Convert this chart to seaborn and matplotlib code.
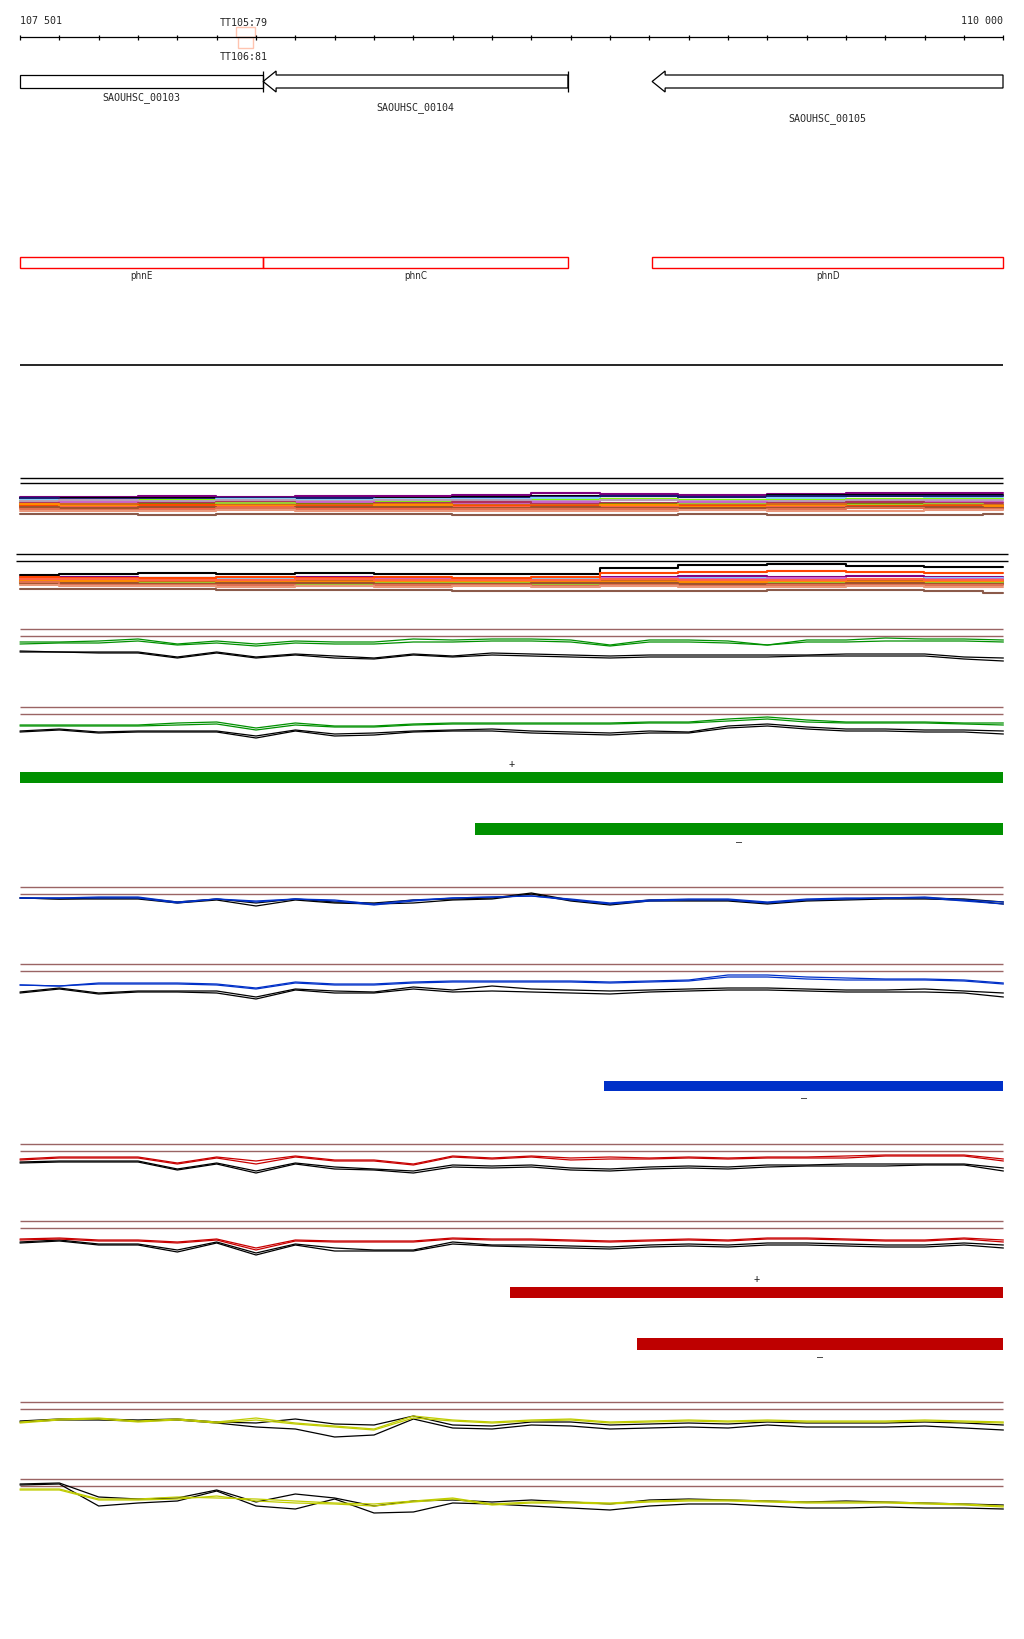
import numpy as np
import pandas as pd
import matplotlib
matplotlib.use("Agg")
import matplotlib.pyplot as plt
import seaborn as sns
from matplotlib.patches import Polygon, Rectangle

# ---------------- data ----------------
VIEW_START, VIEW_END = 107501, 110000
ruler_labels = ["107 501", "110 000"]

gene_ids = ["SAOUHSC_00103", "SAOUHSC_00104", "SAOUHSC_00105"]
gene_names = ["phnE", "phnC", "phnD"]
gene_start = [107501, 108119, 109108]
gene_end = [108119, 108894, 110000]
gene_strand = ["+", "-", "-"]

term_labels = ["TT105:79", "TT106:81"]
term_start = [108050, 108055]
term_end = [108099, 108093]

pos = list(range(107501, 110002, 100))          # 26 bins
pos_m = [107501, 107700, 107900, 108100, 108300, 108500, 108700,
         108900, 109050, 109300, 109500, 109700, 109900, 110000]

# single-colour track groups: offsets (px depth) below the lower guide line
green1_a = [6,6,5,3,8,5,8,5,6,6,3,4,3, 3,4,9,4,4,5,9,4,4,2,3,3,4]
green1_b = [8,7,7,5,9,7,10,7,8,8,6,6,5, 5,6,10,6,6,7,9,6,6,5,5,5,6]
green1_k1 = [15,16,16,16,21,16,21,18,20,22,18,20,17, 18,19,20,19,19,19,19,19,18,18,18,21,22]
green1_k2 = [16,16,17,17,22,17,22,19,22,23,19,21,19, 20,21,22,21,21,21,21,20,20,20,20,23,25]

green2_a = [11,11,11,11,9,8,14,9,12,12,10,9,9, 9,9,9,8,8,5,3,6,8,8,8,9,9]
green2_b = [12,12,12,12,11,10,16,11,13,13,11,10,10, 10,10,10,9,9,7,5,8,9,9,9,10,11]
green2_k1 = [17,15,18,17,17,17,22,16,20,19,17,16,15, 17,18,19,17,18,12,10,13,15,15,16,16,17]
green2_k2 = [18,16,19,18,18,18,24,17,22,21,18,17,17, 19,20,21,19,19,14,12,15,17,17,18,18,20]

blue1_a = [4,4,3,3,8,5,7,5,6,10,6,4,3, 2,5,9,6,5,5,8,5,4,4,3,6,8]
blue1_b = [4,4,4,4,9,5,8,5,7,11,7,4,3, 2,6,10,7,6,6,9,6,5,4,4,7,10]
blue1_k1 = [4,5,4,4,8,5,9,5,8,9,6,5,4, -1,6,10,6,6,6,9,6,5,4,4,5,8]
blue1_k2 = [4,5,5,5,9,6,12,6,9,10,9,6,5, 0,7,11,7,7,7,10,7,6,5,5,6,10]

blue2_a = [14,15,12,12,12,13,17,11,13,13,11,10,10, 10,10,11,10,9,4,4,6,7,8,8,9,12]
blue2_b = [14,15,13,13,13,14,18,12,14,14,12,11,11, 11,11,12,11,10,6,6,8,9,9,9,10,13]
blue2_k1 = [21,17,22,20,20,20,26,18,20,21,16,19,15, 18,19,20,19,18,17,17,18,19,19,18,20,22]
blue2_k2 = [22,18,23,21,21,22,28,19,22,22,18,21,20, 21,22,23,21,20,19,19,20,21,21,21,22,26]

red1_a = [8,6,6,6,12,6,10,5,9,9,13,5,7, 5,7,6,7,6,7,6,6,5,4,4,4,8]
red1_b = [9,7,7,7,13,7,13,6,10,10,14,6,8, 6,9,8,8,7,8,7,7,7,5,5,5,10]
red1_k1 = [11,10,10,10,18,12,20,12,16,18,20,14,15, 14,17,18,16,15,16,14,14,13,13,13,13,17]
red1_k2 = [12,11,11,11,19,13,22,13,18,19,22,16,17, 16,19,20,18,17,18,16,15,15,15,14,14,20]

red2_a = [11,10,12,12,14,11,20,12,13,13,13,10,11, 11,12,13,12,11,12,10,10,11,12,12,10,12]
red2_b = [12,11,13,13,15,12,22,13,14,14,14,11,12, 12,13,14,13,12,13,11,11,12,13,13,11,14]
red2_k1 = [14,12,16,16,22,14,25,16,20,22,22,14,17, 17,18,19,17,16,17,15,15,16,17,17,15,17]
red2_k2 = [15,13,17,17,24,15,27,17,23,23,23,16,18, 19,20,21,19,18,19,17,17,18,19,19,17,20]

yellow1_a = [13,10,9,12,10,13,9,14,17,20,7,11,13, 11,10,13,12,11,12,11,12,12,12,11,12,13]
yellow1_b = [14,11,10,13,11,14,11,15,18,21,9,12,14, 12,11,14,13,12,13,12,13,13,13,12,13,14]
yellow1_k1 = [12,10,10,11,10,13,14,10,15,16,7,16,17, 13,13,16,15,14,15,13,14,14,14,13,14,16]
yellow1_k2 = [13,11,11,12,11,14,18,20,28,26,10,19,20, 16,17,20,19,18,19,16,18,18,18,17,19,21]

yellow2_a = [3,3,13,13,11,12,13,15,17,18,15,12,18, 16,16,17,15,14,14,15,16,16,16,17,18,20]
yellow2_b = [4,4,14,14,13,10,15,17,18,20,16,13,19, 17,17,18,16,15,15,16,17,17,17,18,19,21]
yellow2_k1 = [-2,-3,11,13,12,4,16,8,12,20,15,14,16, 14,16,18,14,13,14,15,16,15,16,17,18,19]
yellow2_k2 = [-1,-2,20,17,15,5,20,23,13,27,26,17,18, 20,22,24,20,18,18,20,22,22,21,22,22,23]

# multi-colour groups (offsets below lower black guide line)
multi_colors = ["#800080", "#000000", "#191970", "#87cefa", "#7cfc00", "#b8a0b8",
                "#cc66cc", "#b03060", "#808000", "#9acd32", "#d2691e", "#ff4500",
                "#ff8c00", "#ff6347", "#a0522d", "#e07050", "#e9967a", "#8b5a4a"]
multi1 = [
    [14,14,13,14,13,13,12,10,11,12,11,10,10,10],
    [15,15,15,15,15,15,14,13,13,14,12,12,12,12],
    [15,16,16,15,15,16,15,14,13,14,13,13,13,13],
    [17,17,17,16,17,16,16,15,16,17,15,16,15,15],
    [18,18,17,17,18,18,18,17,16,17,17,16,16,16],
    [18,17,18,17,18,17,17,18,17,18,18,17,17,17],
    [20,19,20,21,19,20,21,19,20,19,20,20,19,19],
    [20,21,20,19,21,20,19,21,20,21,20,19,20,20],
    [22,23,21,22,21,23,22,23,21,22,22,21,22,22],
    [21,22,22,20,23,22,23,22,22,21,23,22,21,22],
    [22,21,23,22,22,21,22,22,23,22,21,23,22,22],
    [23,24,22,24,23,24,23,23,24,23,24,23,23,24],
    [21,23,24,23,24,22,24,24,22,24,23,24,24,23],
    [25,24,25,24,25,25,24,25,24,25,24,25,25,25],
    [24,25,24,25,24,24,25,24,25,25,25,24,24,25],
    [26,27,27,25,27,27,26,26,26,27,26,25,26,26],
    [28,28,28,27,28,28,28,28,28,27,28,28,27,27],
    [31,31,32,31,31,31,32,32,32,31,32,32,32,31],
]
multi2 = [
    [16,16,17,17,16,17,18,17,16,15,16,15,16,16],
    [14,13,12,13,12,13,13,13,7,4,3,5,6,6],
    [18,19,17,18,20,18,19,18,19,20,18,20,19,19],
    [17,18,18,17,19,18,17,18,18,17,18,18,17,17],
    [21,20,21,22,20,21,22,21,21,22,21,21,22,22],
    [19,20,20,21,20,20,20,20,21,20,21,20,21,21],
    [17,17,18,19,17,18,18,19,17,18,17,19,18,18],
    [22,22,21,21,22,23,22,24,22,21,23,24,23,23],
    [20,21,22,21,22,21,21,22,22,21,22,22,21,21],
    [23,23,22,23,23,22,22,23,23,22,22,23,22,22],
    [19,19,20,20,19,20,20,20,20,20,20,20,20,20],
    [16,17,17,16,17,16,17,16,12,11,10,11,12,12],
    [20,20,19,20,21,20,20,20,21,21,20,21,20,20],
    [18,18,19,19,18,19,19,19,18,19,19,18,19,19],
    [22,22,23,22,22,23,23,22,22,23,23,22,23,23],
    [21,24,24,24,25,24,24,25,24,25,24,24,24,24],
    [24,25,25,26,25,26,25,26,25,26,26,25,26,26],
    [28,28,28,29,29,29,30,30,30,30,29,29,30,32],
]

# coverage bars
bar_start = [107501, 108658, 108986, 108747, 109070]
bar_end = [110000, 110000, 110000, 110000, 110000]
bar_strand = ["+", "-", "-", "+", "-"]
bar_colors = ["#009000", "#009000", "#0030c8", "#be0000", "#be0000"]

# ---------------- layout ----------------
W, H = 1024, 1640
bp_per_px = (VIEW_END - VIEW_START) / 983.0
x_left = VIEW_START - 20 * bp_per_px
x_right = x_left + W * bp_per_px

sns.set_theme(style="white")
plt.rcParams['font.family'] = ['DejaVu Sans Mono', 'DejaVu Sans']

fig = plt.figure(figsize=(W / 100, H / 100), dpi=100)
ax = fig.add_axes([0, 0, 1, 1])
ax.set_xlim(x_left, x_right)
ax.set_ylim(H, 0)
ax.axis("off")

FS = 7.2
# ruler
RY = 38
ax.hlines(RY, VIEW_START, VIEW_END, color="black", lw=0.9)
ticks = list(range(VIEW_START, VIEW_END + 2, 100))
ax.vlines(ticks, RY - 2.5, RY + 2.5, color="black", lw=0.9)
ax.text(VIEW_START, 24, ruler_labels[0], fontsize=FS, ha="left", va="baseline")
ax.text(VIEW_END, 24, ruler_labels[1], fontsize=FS, ha="right", va="baseline")

# terminators
term_y = [(28, 38), (38, 49)]
term_text_y = [26, 60]
for s, e, (y0, y1), lab, ty in zip(term_start, term_end, term_y, term_labels, term_text_y):
    ax.add_patch(Rectangle((s, y0), e - s, y1 - y0, fill=False, ec="#ffc4b0", lw=1.0))
    ax.text((s + e) / 2 - 5, ty, lab, fontsize=FS, ha="center", va="baseline")

# genes
GY0, GY1 = 76, 89
head = 13 * bp_per_px
label_y = [100, 110, 121]
for gid, s, e, st, ly in zip(gene_ids, gene_start, gene_end, gene_strand, label_y):
    mid = (GY0 + GY1) / 2
    if st == "+":
        ax.add_patch(Rectangle((s, GY0), e - s, GY1 - GY0, fill=False, ec="black", lw=0.9))
    else:
        pts = [(s, mid), (s + head, GY0 - 4), (s + head, GY0), (e, GY0),
               (e, GY1), (s + head, GY1), (s + head, GY1 + 4)]
        ax.add_patch(Polygon(pts, closed=True, fill=False, ec="black", lw=0.9))
    ax.text((s + e) / 2, ly, gid, fontsize=FS, ha="center", va="baseline")
# gene boundary markers
ax.vlines([gene_end[0], gene_end[1]], 72, 93, color="black", lw=0.9)

# gene name boxes
for name, s, e in zip(gene_names, gene_start, gene_end):
    ax.add_patch(Rectangle((s, 258), e - s, 10.5, fill=False, ec="#ff0000", lw=1.0))
    ax.text((s + e) / 2, 279, name, fontsize=FS - 0.2, ha="center", va="baseline",
            family=['DejaVu Sans', 'DejaVu Sans Mono'], stretch="condensed")

ax.hlines(366, VIEW_START, VIEW_END, color="black", lw=1.2)

# ---------------- multicolour groups ----------------
def multi_df(rows, base):
    recs = []
    for i, vals in enumerate(rows):
        for p, v in zip(pos_m, vals):
            recs.append({"pos": p, "y": base + v, "series": f"s{i:02d}"})
    return pd.DataFrame(recs)

pal_m = {f"s{i:02d}": c for i, c in enumerate(multi_colors)}
ax.hlines([479, 484], VIEW_START, VIEW_END, color="black", lw=1.0)
sns.lineplot(data=multi_df(multi1, 484), x="pos", y="y", hue="series", palette=pal_m,
             estimator=None, sort=False, legend=False, lw=1.5, drawstyle="steps-mid", ax=ax)
m2_l, m2_r = VIEW_START - 4 * bp_per_px, VIEW_END + 5 * bp_per_px
ax.hlines([555, 562], m2_l, m2_r, color="black", lw=1.0)
sns.lineplot(data=multi_df(multi2, 562), x="pos", y="y", hue="series", palette=pal_m,
             estimator=None, sort=False, legend=False, lw=1.5, drawstyle="steps-mid", ax=ax)

# ---------------- single colour groups ----------------
groups = [
    ("#009000", 630, [green1_a, green1_b], [green1_k1, green1_k2]),
    ("#009000", 708, [green2_a, green2_b], [green2_k1, green2_k2]),
    ("#0030c8", 888, [blue1_a, blue1_b], [blue1_k1, blue1_k2]),
    ("#0030c8", 965, [blue2_a, blue2_b], [blue2_k1, blue2_k2]),
    ("#c80000", 1145, [red1_a, red1_b], [red1_k1, red1_k2]),
    ("#c80000", 1222, [red2_a, red2_b], [red2_k1, red2_k2]),
    ("#c0cc00", 1403, [yellow1_a, yellow1_b], [yellow1_k1, yellow1_k2]),
    ("#c0cc00", 1480, [yellow2_a, yellow2_b], [yellow2_k1, yellow2_k2]),
]
for col, top, colored, blacks in groups:
    ax.hlines([top, top + 7], VIEW_START, VIEW_END, color="#9a6464", lw=1.0)
    base = top + 7
    recs = []
    pal = {}
    for j, vals in enumerate(blacks):
        for p, v in zip(pos, vals):
            recs.append({"pos": p, "y": base + v, "series": f"k{j}"})
        pal[f"k{j}"] = "black"
    for j, vals in enumerate(colored):
        for p, v in zip(pos, vals):
            recs.append({"pos": p, "y": base + v, "series": f"c{j}"})
        pal[f"c{j}"] = col
    sns.lineplot(data=pd.DataFrame(recs), x="pos", y="y", hue="series", palette=pal,
                 estimator=None, sort=False, legend=False, lw=0.9, ax=ax)

# ---------------- bars ----------------
bar_y = [(773, 784), (824, 836), (1082, 1092), (1288, 1299), (1339, 1351)]
for s, e, st, c, (y0, y1) in zip(bar_start, bar_end, bar_strand, bar_colors, bar_y):
    ax.barh((y0 + y1) / 2, e - s, left=s, height=y1 - y0, color=c, edgecolor="none")
    if st == "+":
        ax.text((s + e) / 2, y0 - 4, "+", fontsize=FS, ha="center", va="bottom")
    else:
        ax.text((s + e) / 2, y1 + 1, "\u2013", fontsize=FS, ha="center", va="top")

fig.savefig("out.png", dpi=100, facecolor="white")
